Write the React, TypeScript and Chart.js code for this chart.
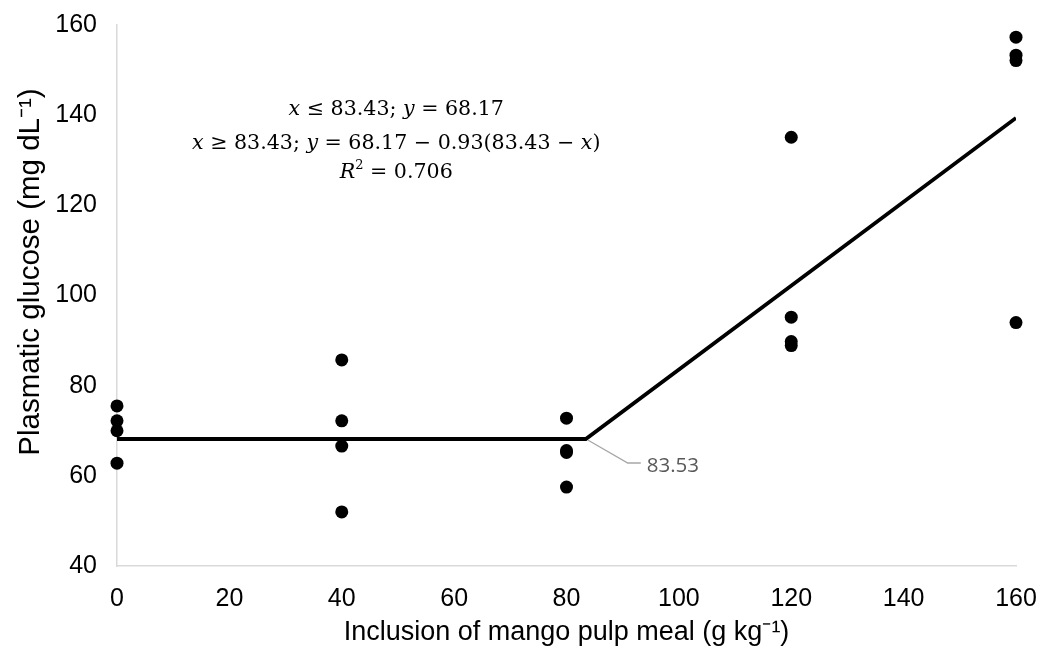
import React, { useEffect, useRef } from "react";
import { Chart, registerables } from "chart.js";

Chart.register(...registerables);

// Observed data
const inclusion0 = [0, 0, 0, 0];
const glucose0 = [75.5, 72.2, 70.0, 62.8];
const inclusion40 = [40, 40, 40, 40];
const glucose40 = [85.7, 72.2, 66.6, 52.0];
const inclusion80 = [80, 80, 80, 80];
const glucose80 = [72.8, 65.6, 65.2, 57.5];
const inclusion120 = [120, 120, 120, 120];
const glucose120 = [135.1, 95.2, 89.8, 88.9];
const inclusion160 = [160, 160, 160, 160];
const glucose160 = [157.3, 153.3, 152.1, 94.0];

// Broken-line (linear plateau) fit
const fitX = [0, 83.43, 160];
const fitY = [68.17, 68.17, 139.38];
const breakLabel = "83.53";

const xTicks = [0, 20, 40, 60, 80, 100, 120, 140, 160];
const yTicks = [40, 60, 80, 100, 120, 140, 160];

const xTitle = "Inclusion of mango pulp meal (g kg\u207B\u00B9)";
const yTitle = "Plasmatic glucose (mg dL\u207B\u00B9)";

type Seg = { t: string; it?: boolean; sup?: boolean };
const eqLines: Seg[][] = [
  [{ t: "x", it: true }, { t: " \u2264 83.43; " }, { t: "y", it: true }, { t: " = 68.17" }],
  [
    { t: "x", it: true },
    { t: " \u2265 83.43; " },
    { t: "y", it: true },
    { t: " = 68.17 \u2212 0.93(83.43 \u2212 " },
    { t: "x", it: true },
    { t: ")" },
  ],
  [{ t: "R", it: true }, { t: "2", sup: true }, { t: " = 0.706" }],
];

const SANS = "'Liberation Sans', Arial, sans-serif";

export default function App() {
  const ref = useRef<HTMLCanvasElement | null>(null);
  useEffect(() => {
    document.body.style.margin = "0";
    const canvas = ref.current!;
    const points: { x: number; y: number }[] = [];
    const groups: [number[], number[]][] = [
      [inclusion0, glucose0],
      [inclusion40, glucose40],
      [inclusion80, glucose80],
      [inclusion120, glucose120],
      [inclusion160, glucose160],
    ];
    groups.forEach(([xs, ys]) => xs.forEach((x, i) => points.push({ x, y: ys[i] })));
    const fit = fitX.map((x, i) => ({ x, y: fitY[i] }));

    const overlay = {
      id: "overlay",
      afterDatasetsDraw(chart: any) {
        const ctx = chart.ctx;
        const xs = chart.scales.x;
        const ys = chart.scales.y;
        ctx.save();
        // y-axis title
        ctx.save();
        ctx.translate(31, ys.getPixelForValue(105.2));
        ctx.rotate(-Math.PI / 2);
        ctx.fillStyle = "#000";
        ctx.font = `29.5px ${SANS}`;
        ctx.textAlign = "center";
        ctx.textBaseline = "middle";
        ctx.fillText(yTitle, 0, 0);
        ctx.restore();
        // callout
        const bx = xs.getPixelForValue(fitX[1]);
        const by = ys.getPixelForValue(fitY[1]);
        ctx.strokeStyle = "#a6a6a6";
        ctx.lineWidth = 1.3;
        ctx.beginPath();
        ctx.moveTo(bx + 2, by + 1);
        ctx.lineTo(bx + 42, by + 24);
        ctx.lineTo(bx + 55, by + 24);
        ctx.stroke();
        ctx.fillStyle = "#595959";
        ctx.font = "20.5px 'Open Sans', 'Liberation Sans', sans-serif";
        ctx.textAlign = "left";
        ctx.textBaseline = "middle";
        ctx.fillText(breakLabel, bx + 61, by + 27);
        // equation
        const cx = xs.getPixelForValue(49.7);
        const lineYs = [ys.getPixelForValue(141.8), ys.getPixelForValue(134.3), ys.getPixelForValue(127.9)];
        const fs = 20.6;
        const fontFor = (s: Seg) =>
          `${s.it ? "italic " : ""}${s.sup ? Math.round(fs * 0.65) : fs}px 'DejaVu Serif', 'Liberation Serif', serif`;
        ctx.fillStyle = "#000";
        ctx.textBaseline = "alphabetic";
        eqLines.forEach((line, li) => {
          let w = 0;
          line.forEach((s) => {
            ctx.font = fontFor(s);
            w += ctx.measureText(s.t).width;
          });
          let x = cx - w / 2;
          const y = lineYs[li] + 8;
          line.forEach((s) => {
            ctx.font = fontFor(s);
            ctx.fillText(s.t, x, s.sup ? y - 9 : y);
            x += ctx.measureText(s.t).width;
          });
        });
        ctx.restore();
      },
    };

    const chart = new Chart(canvas, {
      type: "scatter",
      data: {
        datasets: [
          {
            data: fit,
            showLine: true,
            borderColor: "#000",
            borderWidth: 3.8,
            pointRadius: 0,
            order: 2,
          } as any,
          {
            data: points,
            backgroundColor: "#000",
            borderColor: "#000",
            pointRadius: 6.5,
            pointBorderWidth: 0,
            order: 1,
            clip: false,
          } as any,
        ],
      },
      options: {
        animation: false,
        responsive: false,
        layout: { padding: { top: 25, right: 30, left: 0, bottom: 0 } },
        plugins: { legend: { display: false }, tooltip: { enabled: false } },
        scales: {
          x: {
            type: "linear",
            min: 0,
            max: 160,
            afterBuildTicks: (s: any) => {
              s.ticks = xTicks.map((v) => ({ value: v }));
            },
            afterFit: (s: any) => {
              s.height = 89;
              s.paddingLeft = 0;
              s.paddingRight = 0;
            },
            grid: { display: false, drawTicks: false },
            border: { display: true, color: "#d9d9d9", width: 1.5 },
            ticks: {
              color: "#000",
              padding: 18,
              font: { family: SANS, size: 25 },
            },
            title: {
              display: true,
              text: xTitle,
              color: "#000",
              padding: { top: 0, bottom: 6 },
              font: { family: SANS, size: 27 },
            },
          },
          y: {
            type: "linear",
            min: 40,
            max: 160,
            afterBuildTicks: (s: any) => {
              s.ticks = yTicks.map((v) => ({ value: v }));
            },
            afterFit: (s: any) => {
              s.width = 117;
              s.paddingTop = 0;
              s.paddingBottom = 0;
            },
            grid: { display: false, drawTicks: false },
            border: { display: true, color: "#d9d9d9", width: 1.5 },
            ticks: {
              color: "#000",
              padding: 20,
              font: { family: SANS, size: 25 },
            },
            title: { display: false },
          },
        },
      },
      plugins: [overlay],
    });
    return () => chart.destroy();
  }, []);
  return (
    <div style={{ width: 1046, height: 655 }}>
      <canvas ref={ref} width={1046} height={655} style={{ display: "block" }} />
    </div>
  );
}
